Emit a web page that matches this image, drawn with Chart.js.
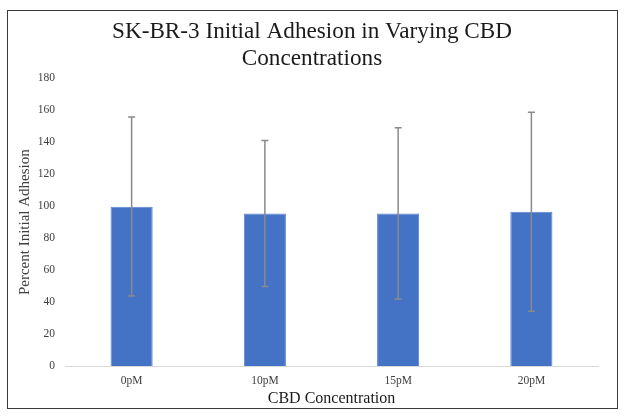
<!DOCTYPE html>
<html>
<head>
<meta charset="utf-8">
<script src="https://cdn.jsdelivr.net/npm/chart.js@4"></script>
<style>
  html, body { margin: 0; padding: 0; background: #fff; }
  #wrap { position: relative; width: 628px; height: 420px; }
  #frame { position: absolute; left: 7px; top: 10px; width: 609px; height: 397px;
           border: 1.5px solid #3a3a3a; pointer-events: none; }
</style>
</head>
<body>
<div id="wrap">
  <canvas id="barchart" width="628" height="420"></canvas>
  <div id="frame"></div>
</div>
<script>
// data
var concLabels = ['0pM', '10pM', '15pM', '20pM'];
var adhesion = [99.6, 95.4, 95.4, 96.5];
var errLow = [43.8, 49.8, 41.9, 34.2];
var errHigh = [155.8, 141, 149, 158.8];

var serif = '"Liberation Serif", "Times New Roman", serif';

// error bars drawn through the y scale
var errorBars = {
  id: 'errorBars',
  afterDatasetsDraw: function (chart) {
    var ctx = chart.ctx;
    var meta = chart.getDatasetMeta(0);
    var y = chart.scales.y;
    ctx.save();
    ctx.strokeStyle = '#8a8a8a';
    ctx.lineWidth = 1.5;
    meta.data.forEach(function (bar, i) {
      var top = y.getPixelForValue(errHigh[i]);
      var bot = y.getPixelForValue(errLow[i]);
      ctx.beginPath();
      ctx.moveTo(bar.x, top);
      ctx.lineTo(bar.x, bot);
      ctx.moveTo(bar.x - 3.5, top);
      ctx.lineTo(bar.x + 3.5, top);
      ctx.moveTo(bar.x - 3.5, bot);
      ctx.lineTo(bar.x + 3.5, bot);
      ctx.stroke();
    });
    ctx.restore();
  }
};

var data = {
  labels: concLabels,
  datasets: [{
    data: adhesion,
    backgroundColor: '#4472C4',
    borderColor: '#5a85d2',
    borderWidth: 1,
    categoryPercentage: 1,
    barPercentage: 0.316
  }]
};

var config = {
  type: 'bar',
  data: data,
  plugins: [errorBars],
  options: {
    responsive: false,
    animation: false,
    layout: { padding: { left: 13, right: 17, bottom: 12 } },
    plugins: {
      legend: { display: false },
      tooltip: { enabled: false },
      title: {
        display: true,
        text: ['SK-BR-3 Initial Adhesion in Varying CBD', 'Concentrations'],
        color: '#1a1a1a',
        font: { family: serif, size: 23.2, weight: 'normal', lineHeight: 1.15 },
        padding: { top: 18.5, bottom: 6.4 }
      }
    },
    scales: {
      x: {
        grid: { display: false, drawTicks: false },
        border: { display: true, color: '#d9d9d9', width: 1 },
        ticks: { color: '#404040', font: { family: serif, size: 11.5 }, padding: 8 },
        title: {
          display: true,
          text: 'CBD Concentration',
          color: '#1a1a1a',
          font: { family: serif, size: 16 },
          padding: { top: 0, bottom: 0 }
        },
        afterFit: function (s) { s.height = 42; }
      },
      y: {
        min: 0,
        max: 180,
        grid: { display: false, drawTicks: false },
        border: { display: false },
        ticks: { stepSize: 20, color: '#404040', font: { family: serif, size: 11.5 }, padding: 10 },
        title: {
          display: true,
          text: 'Percent Initial Adhesion',
          color: '#404040',
          font: { family: serif, size: 15 },
          padding: { top: 3, bottom: 0 }
        },
        afterFit: function (s) { s.width = 52; }
      },
      y2: {
        position: 'right',
        grid: { display: false, drawTicks: false },
        border: { display: false },
        ticks: { display: false },
        afterFit: function (s) { s.width = 13; }
      }
    }
  }
};

var barchart = new Chart(document.getElementById('barchart'), config);
</script>
</body>
</html>
